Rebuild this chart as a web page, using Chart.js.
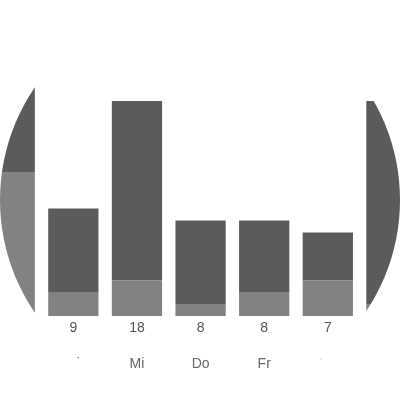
<!DOCTYPE html>
<html lang="de">
  <head>
    <meta charset="UTF-8" />
    <title>Woche</title>
    <script src="https://cdn.jsdelivr.net/npm/chart.js"></script>
    <style>
      body { margin: 0; background: #fff; }
      #myChart { border-radius: 50%; display: block; }
    </style>
  </head>
  <body>
    <canvas id="myChart" width="400" height="400"></canvas>
    <script>
      // Tage und Werte pro Tag
      const days = ["Mo", "Di", "Mi", "Do", "Fr", "Sa", "So"];
      const lightValues = [12, 2, 3, 1, 2, 3, 1];
      const darkValues = [10, 7, 15, 7, 6, 4, 17];
      const totals = days.map((d, i) => lightValues[i] + darkValues[i]);

      const ctx = document.getElementById("myChart");
      new Chart(ctx, {
        type: "bar",
        data: {
          labels: days,
          datasets: [
            { label: "hell", data: lightValues, backgroundColor: "#828282" },
            { label: "dunkel", data: darkValues, backgroundColor: "#5b5b5b" },
          ],
        },
        options: {
          responsive: false,
          animation: false,
          // clip: false, damit Mo und So über den Rand laufen
          datasets: { bar: { barPercentage: 1, categoryPercentage: 0.79, clip: false } },
          plugins: { legend: { display: false }, tooltip: { enabled: false } },
          layout: { padding: { top: 29.4, bottom: 12 } },
          scales: {
            y: { display: false, stacked: true, min: 0, max: 24 },
            x: {
              stacked: true,
              offset: false,
              grid: { display: false },
              border: { display: false },
              ticks: {
                color: "#555",
                font: { size: 14, lineHeight: 0.5714 },
                padding: 0,
                callback: (val, i) => totals[i],
              },
            },
            x2: {
              type: "category",
              labels: days,
              position: "bottom",
              offset: false,
              grid: { display: false },
              border: { display: false },
              // lineHeight schiebt die Tage nach unten
              ticks: { color: "#666", font: { size: 14, lineHeight: 3.43 }, padding: 0 },
            },
          },
        },
      });
    </script>
  </body>
</html>
